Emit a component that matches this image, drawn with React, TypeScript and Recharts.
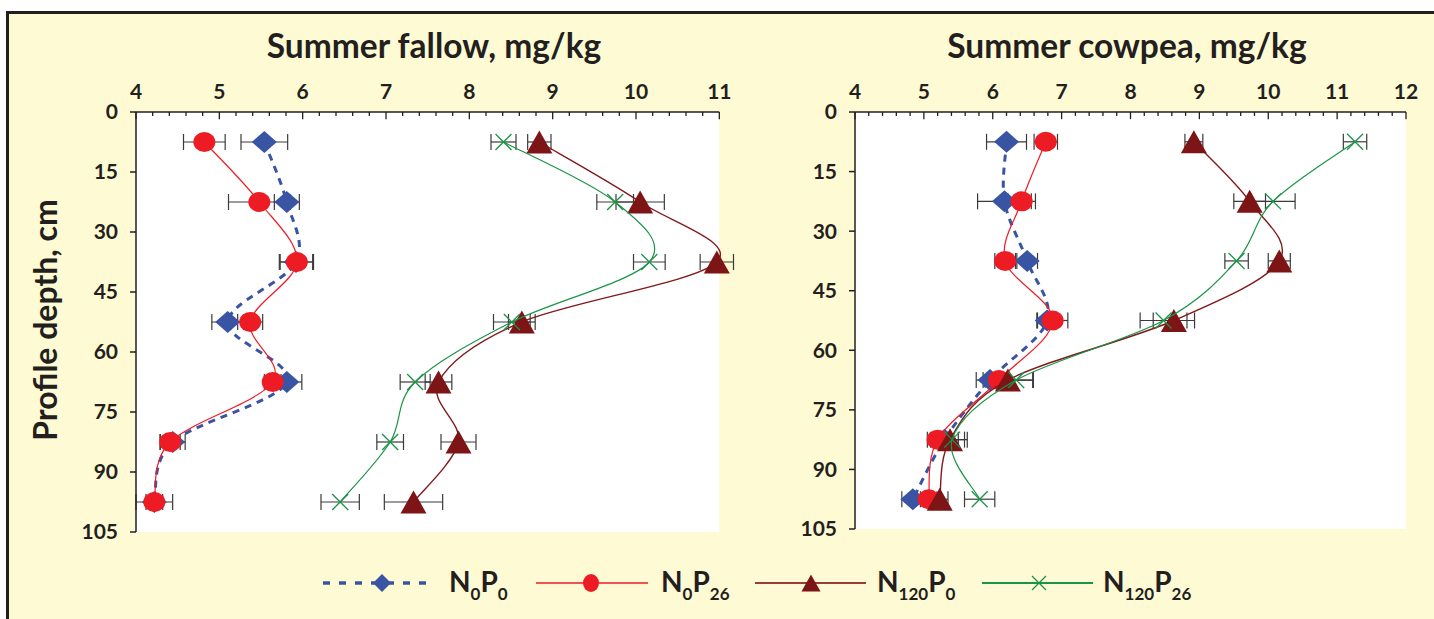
import React from "react";
import {
  ScatterChart,
  Scatter,
  XAxis,
  YAxis,
  ErrorBar,
  ReferenceArea,
  ReferenceLine,
} from "recharts";

// depth of each sampling layer (cm), shared by both panels
const depth = [7.5, 22.5, 37.5, 52.5, 67.5, 82.5, 97.5];

// Summer fallow, mg/kg
const fallowN0P0 = [5.54, 5.81, 5.92, 5.1, 5.81, 4.44, 4.22];
const fallowN0P0Err = [0.28, 0.15, 0.2, 0.19, 0.18, 0.15, 0.22];
const fallowN0P26 = [4.82, 5.48, 5.93, 5.37, 5.64, 4.41, 4.22];
const fallowN0P26Err = [0.25, 0.37, 0.2, 0.15, 0.1, 0.12, 0.1];
const fallowN120P0 = [8.84, 10.05, 10.97, 8.63, 7.63, 7.87, 7.33];
const fallowN120P0Err = [0.14, 0.29, 0.2, 0.16, 0.16, 0.21, 0.35];
const fallowN120P26 = [8.41, 9.75, 10.16, 8.51, 7.35, 7.05, 6.45];
const fallowN120P26Err = [0.15, 0.22, 0.19, 0.22, 0.18, 0.16, 0.23];

// Summer cowpea, mg/kg
const cowpeaN0P0 = [6.2, 6.17, 6.5, 6.79, 5.96, 5.3, 4.84];
const cowpeaN0P0Err = [0.29, 0.39, 0.15, 0.15, 0.2, 0.2, 0.16];
const cowpeaN0P26 = [6.77, 6.42, 6.18, 6.87, 6.09, 5.2, 5.07];
const cowpeaN0P26Err = [0.17, 0.2, 0.15, 0.22, 0.15, 0.15, 0.12];
const cowpeaN120P0 = [8.92, 9.73, 10.16, 8.63, 6.22, 5.38, 5.23];
const cowpeaN120P0Err = [0.13, 0.23, 0.16, 0.3, 0.36, 0.25, 0.12];
const cowpeaN120P26 = [11.26, 10.07, 9.54, 8.48, 6.34, 5.41, 5.81];
const cowpeaN120P26Err = [0.17, 0.32, 0.17, 0.34, 0.25, 0.18, 0.22];

const depthTicks = [0, 15, 30, 45, 60, 75, 90, 105];
const fallowTicks = [4, 5, 6, 7, 8, 9, 10, 11];
const cowpeaTicks = [4, 5, 6, 7, 8, 9, 10, 11, 12];

const BLUE = "#3a54a4";
const RED = "#ed1c24";
const DARKRED = "#7d1416";
const GREEN = "#1a9447";
const INK = "#231f20";
const FONT = "Lato, 'Open Sans', sans-serif";

const rows = (v: number[], err: number[]) =>
  depth.map((d, i) => ({ depth: d, v: v[i], err: err[i] }));

// excel-like smoothed line (catmull-rom through the points)
const smooth = (context: any) => {
  let pts: number[][] = [];
  return {
    areaStart() {},
    areaEnd() {},
    lineStart() {
      pts = [];
    },
    point(x: number, y: number) {
      pts.push([+x, +y]);
    },
    lineEnd() {
      if (!pts.length) return;
      context.moveTo(pts[0][0], pts[0][1]);
      for (let i = 0; i < pts.length - 1; i++) {
        const p0 = pts[Math.max(i - 1, 0)];
        const p1 = pts[i];
        const p2 = pts[i + 1];
        const p3 = pts[Math.min(i + 2, pts.length - 1)];
        context.bezierCurveTo(
          p1[0] + (p2[0] - p0[0]) / 6,
          p1[1] + (p2[1] - p0[1]) / 6,
          p2[0] - (p3[0] - p1[0]) / 6,
          p2[1] - (p3[1] - p1[1]) / 6,
          p2[0],
          p2[1]
        );
      }
    },
  };
};

function Diamond({ cx, cy, w = 12.5, h = 11 }: any) {
  return <polygon points={`${cx - w},${cy} ${cx},${cy - h} ${cx + w},${cy} ${cx},${cy + h}`} fill={BLUE} />;
}
function Dot({ cx, cy, rx = 11, ry = 10 }: any) {
  return <ellipse cx={cx} cy={cy} rx={rx} ry={ry} fill={RED} />;
}
function Tri({ cx, cy, w = 13, h = 11.5 }: any) {
  return <polygon points={`${cx},${cy - h} ${cx + w},${cy + h} ${cx - w},${cy + h}`} fill={DARKRED} />;
}
function Cross({ cx, cy, s = 8 }: any) {
  return (
    <g stroke={GREEN} strokeWidth={1.3}>
      <line x1={cx - s} y1={cy - s} x2={cx + s} y2={cy + s} />
      <line x1={cx - s} y1={cy + s} x2={cx + s} y2={cy - s} />
    </g>
  );
}

const tickFont = { fontSize: 21, fill: INK, fontWeight: 700, fontFamily: FONT };

function Panel({
  ticks,
  domainMax,
  series,
  width,
  height,
  margin,
  yWidth,
}: {
  ticks: number[];
  domainMax: number;
  series: { v: number[]; err: number[] }[];
  width: number;
  height: number;
  margin: any;
  yWidth: number;
}) {
  const lo = ticks[0];
  const hi = ticks[ticks.length - 1];
  const minor: number[] = [];
  for (let i = 0; i <= (hi - lo) * 5; i++) minor.push(+(lo + i * 0.2).toFixed(1));
  const errStyle = { stroke: "#3a3a3a", strokeWidth: 1.2 };
  return (
    <ScatterChart width={width} height={height} margin={margin}>
      <XAxis
        type="number"
        dataKey="v"
        orientation="top"
        domain={[lo, domainMax]}
        ticks={ticks}
        interval={0}
        height={112}
        tickLine={false}
        tickSize={6}
        tickMargin={7}
        axisLine={false}
        tick={tickFont}
      />
      <YAxis
        type="number"
        dataKey="depth"
        reversed
        domain={[0, 105]}
        ticks={depthTicks}
        interval={0}
        width={yWidth}
        tickSize={6}
        tickMargin={12}
        axisLine={{ stroke: INK, strokeWidth: 1.5 }}
        tickLine={{ stroke: INK, strokeWidth: 1.5 }}
        tick={tickFont}
      />
      {/* white plot area, only up to the last tick */}
      <ReferenceArea x1={lo} x2={hi} y1={0} y2={105} fill="#ffffff" fillOpacity={1} stroke="none" ifOverflow="visible" />
      <ReferenceLine
        segment={[
          { x: lo, y: 0 },
          { x: hi, y: 0 },
        ]}
        stroke={INK}
        strokeWidth={1.5}
        ifOverflow="visible"
      />
      {minor.map((m) => (
        <ReferenceLine
          key={m}
          segment={[
            { x: m, y: 0 },
            { x: m, y: Number.isInteger(m) ? 1.8 : 1 },
          ]}
          stroke={INK}
          strokeWidth={1.3}
          ifOverflow="visible"
        />
      ))}
      <Scatter
        data={rows(series[0].v, series[0].err)}
        isAnimationActive={false}
        line={{ stroke: BLUE, strokeWidth: 3, strokeDasharray: "7 6" }}
        lineJointType={smooth as any}
        shape={(p: any) => <Diamond cx={p.cx} cy={p.cy} />}
      >
        <ErrorBar dataKey="err" direction="x" width={8} {...errStyle} />
      </Scatter>
      <Scatter
        data={rows(series[1].v, series[1].err)}
        isAnimationActive={false}
        line={{ stroke: RED, strokeWidth: 1.2 }}
        lineJointType={smooth as any}
        shape={(p: any) => <Dot cx={p.cx} cy={p.cy} />}
      >
        <ErrorBar dataKey="err" direction="x" width={8} {...errStyle} />
      </Scatter>
      <Scatter
        data={rows(series[2].v, series[2].err)}
        isAnimationActive={false}
        line={{ stroke: "#801a1c", strokeWidth: 1.4 }}
        lineJointType={smooth as any}
        shape={(p: any) => <Tri cx={p.cx} cy={p.cy} />}
      >
        <ErrorBar dataKey="err" direction="x" width={8} {...errStyle} />
      </Scatter>
      <Scatter
        data={rows(series[3].v, series[3].err)}
        isAnimationActive={false}
        line={{ stroke: GREEN, strokeWidth: 1.2 }}
        lineJointType={smooth as any}
        shape={(p: any) => <Cross cx={p.cx} cy={p.cy} />}
      >
        <ErrorBar dataKey="err" direction="x" width={8} {...errStyle} />
      </Scatter>
    </ScatterChart>
  );
}

function LegendLabel({ x, n, p }: { x: number; n: string; p: string }) {
  return (
    <text x={x} y={592} fontSize={28} fontWeight={700} fill={INK} fontFamily={FONT}>
      N
      <tspan fontSize={17} dy={8}>
        {n}
      </tspan>
      <tspan dy={-8}>P</tspan>
      <tspan fontSize={17} dy={8}>
        {p}
      </tspan>
    </text>
  );
}

export default function App() {
  return (
    <div style={{ position: "absolute", left: 0, top: 0, width: 1434, height: 619, background: "#fff", overflow: "hidden" }}>
      <div
        style={{
          position: "absolute",
          left: 6,
          top: 11,
          width: 1440,
          height: 620,
          background: "#fefad3",
          borderTop: `3px solid ${INK}`,
          borderLeft: `3px solid ${INK}`,
        }}
      />
      <div style={{ position: "absolute", left: 0, top: 0 }}>
        <Panel
          ticks={fallowTicks}
          domainMax={11.2}
          width={740}
          height={560}
          yWidth={136}
          margin={{ top: 0, right: 4, bottom: 28, left: 0 }}
          series={[
            { v: fallowN0P0, err: fallowN0P0Err },
            { v: fallowN0P26, err: fallowN0P26Err },
            { v: fallowN120P0, err: fallowN120P0Err },
            { v: fallowN120P26, err: fallowN120P26Err },
          ]}
        />
      </div>
      <div style={{ position: "absolute", left: 720, top: 0 }}>
        <Panel
          ticks={cowpeaTicks}
          domainMax={12}
          width={700}
          height={560}
          yWidth={135}
          margin={{ top: 0, right: 14, bottom: 31, left: 0 }}
          series={[
            { v: cowpeaN0P0, err: cowpeaN0P0Err },
            { v: cowpeaN0P26, err: cowpeaN0P26Err },
            { v: cowpeaN120P0, err: cowpeaN120P0Err },
            { v: cowpeaN120P26, err: cowpeaN120P26Err },
          ]}
        />
      </div>
      <svg width={1434} height={619} style={{ position: "absolute", left: 0, top: 0, pointerEvents: "none" }}>
        <g fontFamily={FONT} fontWeight={700} fill={INK}>
          <text x={434} y={58} fontSize={33.5} textAnchor="middle">
            Summer fallow, mg/kg
          </text>
          <text x={1127} y={58} fontSize={33.5} textAnchor="middle">
            Summer cowpea, mg/kg
          </text>
          <text transform="translate(57,320) rotate(-90)" fontSize={32} textAnchor="middle">
            Profile depth, cm
          </text>
        </g>
        {/* legend */}
        <line x1={323} y1={583} x2={431} y2={583} stroke={BLUE} strokeWidth={3.5} strokeDasharray="7 9" />
        <Diamond cx={382} cy={583} w={9} h={9} />
        <LegendLabel x={449} n="0" p="0" />
        <line x1={536} y1={583} x2={648} y2={583} stroke={RED} strokeWidth={1.5} />
        <Dot cx={591} cy={583} rx={8} ry={9} />
        <LegendLabel x={661} n="0" p="26" />
        <line x1={755} y1={583} x2={866} y2={583} stroke="#9a3d3a" strokeWidth={1.8} />
        <Tri cx={811} cy={583} w={9.5} h={8.5} />
        <LegendLabel x={877} n="120" p="0" />
        <line x1={982} y1={583} x2={1093} y2={583} stroke={GREEN} strokeWidth={1.8} />
        <Cross cx={1039} cy={583} s={7} />
        <LegendLabel x={1103} n="120" p="26" />
      </svg>
    </div>
  );
}
